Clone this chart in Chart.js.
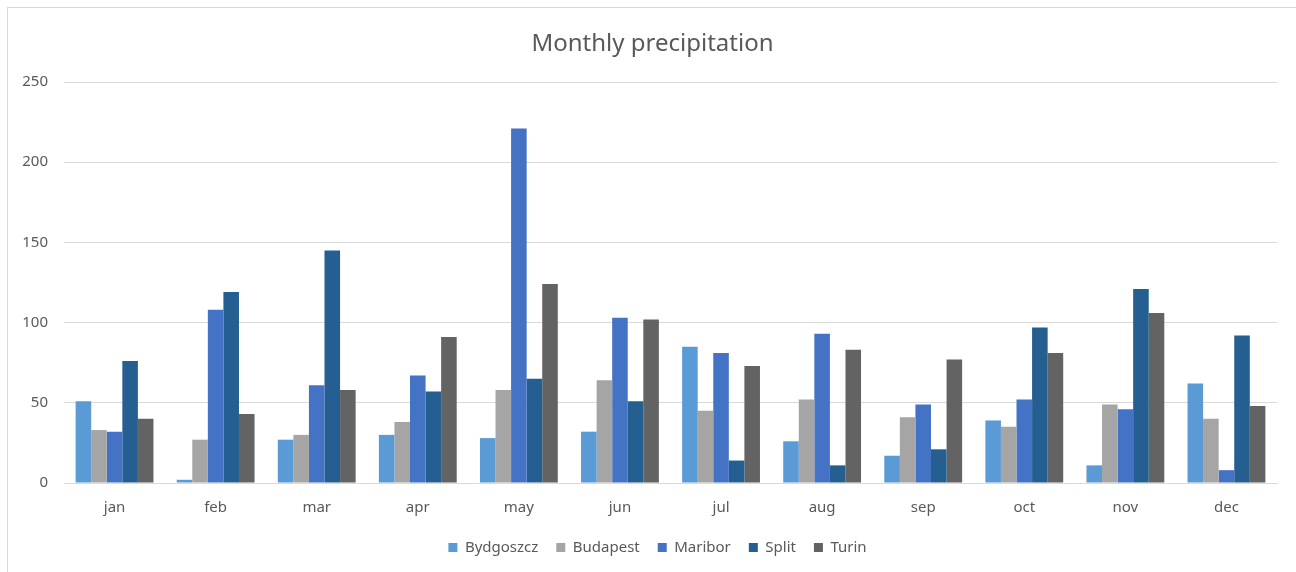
<!DOCTYPE html>
<html>
<head>
<meta charset="utf-8">
<script src="https://cdn.jsdelivr.net/npm/chart.js@4.4.0/dist/chart.umd.min.js"></script>
<style>
    html, body { margin: 0; padding: 0; background: #fff; }
    #wrap { position: relative; width: 1296px; height: 572px; overflow: hidden; }
    #frame { position: absolute; left: 7px; top: 7px; width: 1300px; height: 580px; border: 1px solid #d9d9d9; box-sizing: border-box; }
    canvas { position: absolute; left: 0; top: 0; }
</style>
</head>
<body>
<div id="wrap">
    <div id="frame"></div>
    <canvas id="precipChart" width="1296" height="572"></canvas>
</div>
<script>
const months = ['jan', 'feb', 'mar', 'apr', 'may', 'jun', 'jul', 'aug', 'sep', 'oct', 'nov', 'dec'];

const bydgoszcz = [51, 2, 27, 30, 28, 32, 85, 26, 17, 39, 11, 62];
const budapest = [33, 27, 30, 38, 58, 64, 45, 52, 41, 35, 49, 40];
const maribor = [32, 108, 61, 67, 221, 103, 81, 93, 49, 52, 46, 8];
const split = [76, 119, 145, 57, 65, 51, 14, 11, 21, 97, 121, 92];
const turin = [40, 43, 58, 91, 124, 102, 73, 83, 77, 81, 106, 48];

const cities = ['Bydgoszcz', 'Budapest', 'Maribor', 'Split', 'Turin'];
const cityValues = [bydgoszcz, budapest, maribor, split, turin];
const cityColors = ['#5b9bd5', '#a5a5a5', '#4472c4', '#255e91', '#636363'];

const textColor = '#595959';
const gridColor = '#d9d9d9';
const fontFamily = '"Noto Sans", "Open Sans", sans-serif';

function buildDatasets() {
    return cities.map((name, i) => ({
        label: name,
        data: cityValues[i],
        backgroundColor: cityColors[i],
        borderWidth: 0,
        barPercentage: 1.0,
        categoryPercentage: 0.77
    }));
}

// nudge title and legend a little to the right of the canvas centre
function shiftBox(box, dx) {
    if (box && !box._shifted) {
        box.left += dx;
        box.right += dx;
        box._shifted = true;
    }
}

const boxShift = {
    id: 'boxShift',
    beforeDraw(chart) {
        shiftBox(chart.titleBlock, 14);
        shiftBox(chart.legend, 19);
    }
};

const ctx = document.getElementById('precipChart').getContext('2d');
new Chart(ctx, {
    type: 'bar',
    data: {
        labels: months,
        datasets: buildDatasets()
    },
    plugins: [boxShift],
    options: {
        responsive: false,
        animation: false,
        layout: {
            padding: { left: 0, right: 19, top: 0, bottom: 7 }
        },
        plugins: {
            title: {
                display: true,
                text: 'Monthly precipitation',
                color: textColor,
                font: { family: fontFamily, size: 24, weight: 'normal' },
                padding: { top: 29.6, bottom: 23.6 }
            },
            legend: {
                position: 'bottom',
                labels: {
                    color: textColor,
                    font: { family: fontFamily, size: 15 },
                    boxWidth: 9,
                    boxHeight: 9,
                    padding: 18
                }
            },
            tooltip: { enabled: false }
        },
        scales: {
            x: {
                afterFit: scale => { scale.height = 39; },
                grid: { display: false, drawTicks: false },
                border: { display: true, color: gridColor },
                ticks: {
                    color: textColor,
                    font: { family: fontFamily, size: 15 },
                    padding: 16
                }
            },
            y: {
                min: 0,
                max: 250,
                afterFit: scale => { scale.width = 64; },
                grid: { color: gridColor, drawTicks: false },
                border: { display: false },
                ticks: {
                    stepSize: 50,
                    color: textColor,
                    font: { family: fontFamily, size: 15 },
                    padding: 16
                }
            }
        }
    }
});
</script>
</body>
</html>
